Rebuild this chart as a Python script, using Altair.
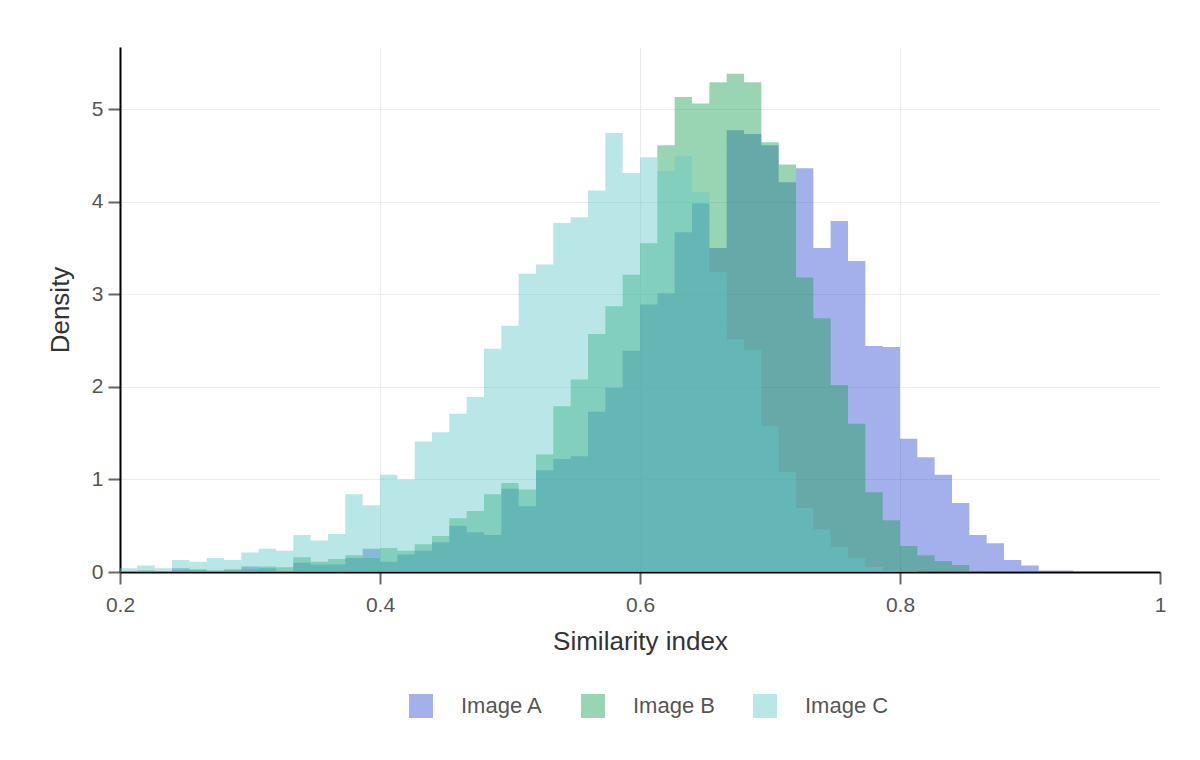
import altair as alt
import pandas as pd

# Histogram bins: 0.2 to 1.0, bin width 1/75
BIN_START = 0.2
BIN_WIDTH = 1 / 75

series_names = ["Image A", "Image B", "Image C"]

image_a = [0.0, 0.0, 0.0, 0.04, 0.02, 0.01, 0.02, 0.06, 0.04, 0.01,
           0.10, 0.08, 0.08, 0.15, 0.25, 0.11, 0.19, 0.23, 0.32, 0.50,
           0.43, 0.40, 0.90, 0.71, 1.10, 1.22, 1.25, 1.73, 1.99, 2.39,
           2.89, 3.01, 3.67, 3.98, 3.50, 4.77, 4.73, 4.61, 4.21, 4.36,
           3.50, 3.79, 3.36, 2.44, 2.43, 1.44, 1.24, 1.05, 0.745, 0.40,
           0.31, 0.13, 0.07, 0.015, 0.015]

image_b = [0.01, 0.02, 0.01, 0.02, 0.03, 0.02, 0.03, 0.03, 0.06, 0.05,
           0.16, 0.11, 0.14, 0.18, 0.15, 0.26, 0.23, 0.30, 0.39, 0.58,
           0.66, 0.84, 0.96, 0.89, 1.27, 1.79, 2.08, 2.57, 2.87, 3.21,
           3.55, 4.61, 5.13, 5.06, 5.29, 5.38, 5.29, 4.64, 4.40, 3.18,
           2.74, 2.02, 1.60, 0.86, 0.56, 0.28, 0.18, 0.12, 0.076, 0.01]

image_c = [0.04, 0.07, 0.04, 0.13, 0.11, 0.15, 0.13, 0.21, 0.25, 0.23,
           0.40, 0.34, 0.41, 0.84, 0.72, 1.05, 1.00, 1.41, 1.51, 1.71,
           1.89, 2.41, 2.66, 3.22, 3.32, 3.77, 3.83, 4.12, 4.74, 4.31,
           4.48, 4.33, 4.49, 4.10, 3.24, 2.51, 2.40, 1.58, 1.08, 0.69,
           0.46, 0.27, 0.15, 0.054, 0.02, 0.01]

x_ticks = [0.2, 0.4, 0.6, 0.8, 1.0]
y_ticks = [0, 1, 2, 3, 4, 5]

colors = ["#334fd5", "#1fa256", "#63c7c7"]

# Step-shaped histogram outline: one point per bin start, closing point at 0
rows = []
for order, (name, vals) in enumerate(zip(series_names, [image_a, image_b, image_c])):
    for i, v in enumerate(vals):
        rows.append({"series": name, "order": order,
                     "x": BIN_START + i * BIN_WIDTH, "density": v})
    rows.append({"series": name, "order": order,
                 "x": BIN_START + len(vals) * BIN_WIDTH, "density": 0.0})
df = pd.DataFrame(rows)

chart = alt.Chart(df).mark_area(
    opacity=0.45, interpolate="step-after", strokeWidth=0
).encode(
    x=alt.X(
        "x:Q",
        scale=alt.Scale(domain=[0.2, 1.0], nice=False, zero=False),
        axis=alt.Axis(
            values=x_ticks, format="~g", title="Similarity index",
            labelFontSize=21, labelColor="#555", labelPadding=10,
            labelFlush=False,
            tickSize=12, tickWidth=2, tickColor="#666",
            domainColor="#000", domainWidth=2,
            gridColor="#ebebeb", gridWidth=1,
            gridOpacity={"condition": {"test": "datum.value > 0.99", "value": 0}, "value": 1},
            titleFontSize=26, titleColor="#333", titleFontWeight="normal",
            titleY=77, titleBaseline="alphabetic",
        ),
    ),
    y=alt.Y(
        "density:Q",
        stack=None,
        scale=alt.Scale(domain=[0, 5.67], nice=False),
        axis=alt.Axis(
            values=y_ticks, title="Density",
            labelFontSize=21, labelColor="#555", labelPadding=5,
            labelFlush=False,
            tickSize=12, tickWidth=2, tickColor="#666",
            domainColor="#000", domainWidth=2,
            gridColor="#ebebeb", gridWidth=1,
            titleFontSize=26, titleColor="#333", titleFontWeight="normal",
            titleX=-60, titleBaseline="middle",
        ),
    ),
    color=alt.Color(
        "series:N",
        scale=alt.Scale(domain=series_names, range=colors),
        legend=alt.Legend(
            title=None, orient="none", legendX=289, legendY=647,
            direction="horizontal", symbolType="square", symbolSize=576,
            symbolStrokeWidth=0, symbolOpacity=0.45,
            labelFontSize=22, labelColor="#555",
            labelOffset=28, columnPadding=38, padding=0,
        ),
    ),
    order=alt.Order("order:Q"),
).properties(
    width=1040,
    height=525,
    autosize=alt.AutoSizeParams(type="none"),
    padding={"left": 112, "top": 39, "right": 32, "bottom": 170},
).configure(
    font="Liberation Sans",
).configure_view(
    strokeWidth=0,
)

chart.save("out.html", embed_options={"renderer": "svg", "actions": False})
